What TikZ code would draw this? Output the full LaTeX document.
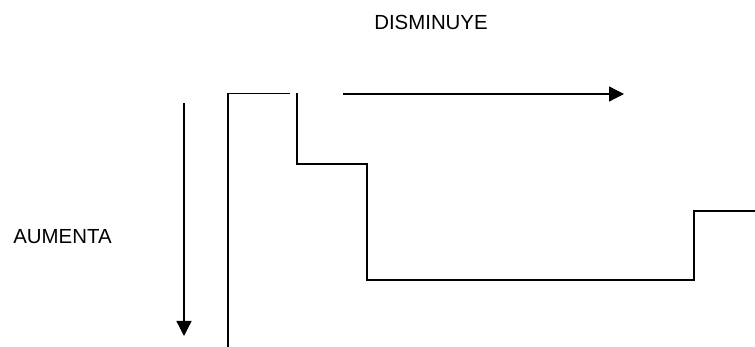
\documentclass[tikz,border=0pt]{standalone}
\usepackage{fontspec}
\setmainfont{Liberation Sans}
\usetikzlibrary{arrows.meta}
\begin{document}
\begin{tikzpicture}[x=1pt,y=-1pt,
  ln/.style={line width=1.3pt, line cap=butt},
  arr/.style={ln, -{Triangle[length=15pt,width=15pt]}},
  lbl/.style={inner sep=0pt, font=\fontsize{20.4}{23}\selectfont}]
\useasboundingbox (0,0) rectangle (755,347);
\node[lbl] (dis) at (431,22) {DISMINUYE};
\node[lbl] (aum) at (62.5,236.5) {AUMENTA};
% down arrow
\coordinate (d1) at (184,103);
\coordinate (d2) at (184,336);
\draw[arr] (d1) -- (d2);
% frame
\coordinate (v1) at (228,347);
\coordinate (v2) at (228,93.5);
\coordinate (h1) at (290,93.5);
\draw[ln] (v1) -- (v2) -- (h1);
% right arrow
\coordinate (r1) at (343,94);
\coordinate (r2) at (624,94);
\draw[arr] (r1) -- (r2);
% step line
\coordinate (s0) at (297,93);
\coordinate (s1) at (297,164);
\coordinate (s2) at (367,164);
\coordinate (s3) at (367,280);
\coordinate (s4) at (694,280);
\coordinate (s5) at (694,211);
\coordinate (s6) at (755,211);
\draw[ln] (s0) -- (s1) -- (s2) -- (s3) -- (s4) -- (s5) -- (s6);
\end{tikzpicture}
\end{document}
